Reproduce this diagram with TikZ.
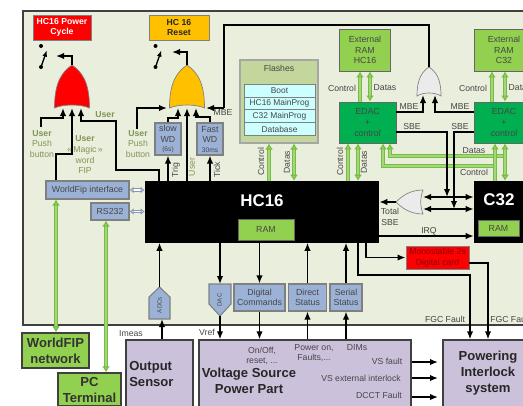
\documentclass[tikz,border=0pt]{standalone}
\usepackage{fontspec}
\setmainfont{Liberation Sans}
\usepackage{xcolor}
\usetikzlibrary{arrows.meta, positioning, calc, shapes.geometric}
\definecolor{qpsback}{RGB}{234,238,220}
\definecolor{qpsframe}{RGB}{64,64,64}
\definecolor{qpsgreen}{RGB}{146,208,80}
\definecolor{qpsline}{RGB}{118,190,62}
\definecolor{qpsedac}{RGB}{0,176,80}
\definecolor{qpsblue}{RGB}{155,178,214}
\definecolor{qpspurple}{RGB}{204,193,218}
\definecolor{qpsorange}{RGB}{255,192,0}
\definecolor{qpsflash}{RGB}{195,214,155}
\definecolor{qpscyan}{RGB}{204,255,255}
\definecolor{qpsuser}{RGB}{128,150,84}
\definecolor{qpstext}{RGB}{70,70,70}
\tikzset{
  sized/.style 2 args={minimum width=#1*.75pt, minimum height=#2*.75pt, inner sep=0pt, align=center},
  bluebox/.style={draw=gray, fill=qpsblue, line width=.8pt, text=qpstext, font=\fontsize{6.6}{8}\selectfont},
  greenbox/.style={draw=gray!80!black, fill=qpsgreen, line width=.7pt, text=qpstext, font=\fontsize{6.6}{8}\selectfont},
  edacbox/.style={draw=gray!80!black, fill=qpsedac, line width=.7pt, text=qpstext, font=\fontsize{6.6}{8}\selectfont},
  netbox/.style={draw=qpsframe, fill=qpsgreen, line width=1pt, text=black!80, font=\fontsize{9.8}{12}\selectfont\bfseries},
  purplebox/.style={draw=qpsframe, fill=qpspurple, line width=1pt},
  bigtxt/.style={text=black!85, font=\fontsize{9.8}{12}\selectfont\bfseries, align=center, inner sep=0pt},
  labeltxt/.style={text=qpstext, font=\fontsize{6.5}{8}\selectfont, align=center, inner sep=0pt},
  usertxt/.style={text=qpsuser, font=\fontsize{6.5}{8}\selectfont, align=center, inner sep=0pt},
  blacktxt/.style={text=white, font=\fontsize{12.7}{14}\selectfont\bfseries, inner sep=0pt},
  sigtip/.tip={Latex[length=6pt,width=4.8pt]},
  bustip/.tip={Latex[length=4.5pt,width=6pt,fill=qpsline!70!white]},
  smalltip/.tip={Latex[length=3pt,width=5pt,fill=white]},
  sig/.style={draw=black, line width=1.1pt, -sigtip},
  sigboth/.style={draw=black, line width=1.1pt, sigtip-sigtip},
  wire/.style={draw=black, line width=1.1pt},
  bus/.style={draw=qpsline, line width=1.1pt, double=qpsline!65!white, double distance=.9pt, bustip-bustip},
  busup/.style={draw=qpsline, line width=1.1pt, double=qpsline!65!white, double distance=.9pt, bustip-},
  smallbus/.style={draw=qpsblue!85!black, line width=.6pt, double=white, double distance=1.2pt, smalltip-smalltip},
  gatepath/.style={draw=gray, line width=.5pt},
}
% or gate pointing up: name, centre x, bottom y, half width, height, colour
\newcommand{\orgate}[6]{%
  \path[gatepath, fill=#6] (#2-#4,#3) .. controls (#2-#4,#3-#5*.62) and (#2-#4*.55,#3-#5*.84) .. (#2,#3-#5)
    .. controls (#2+#4*.55,#3-#5*.84) and (#2+#4,#3-#5*.62) .. (#2+#4,#3)
    .. controls (#2+#4*.5,#3-4) and (#2-#4*.5,#3-4) .. cycle;
  \coordinate (#1top) at (#2,#3-#5);}
\newcommand{\switchsym}[2]{%
  \fill (#1,#2) circle (1.5pt);
  \fill (#1,#2+21) circle (1.5pt);
  \draw[line width=1pt, -{Latex[length=5pt,width=3.5pt]}] (#1,#2+21) -- (#1+6,#2+4);}
\begin{document}
\begin{tikzpicture}[x=0.75pt, y=-0.75pt]
\useasboundingbox (0,0) rectangle (523,405);
% ---- main frame ----
\fill[qpsback] (23,11) rectangle (523,325);
\draw[qpsframe, line width=1.1pt] (523,11) -- (23,11) -- (23,325) -- (523,325);

% ---- top boxes ----
\node[sized={58}{25}, draw=gray, fill=red, text=white, font=\fontsize{6.5}{8}\selectfont\bfseries] (powercycle) at (62,27.5) {HC16 Power\\Cycle};
\node[sized={60}{25}, draw=gray, fill=qpsorange, text=black!85, font=\fontsize{6.5}{8}\selectfont\bfseries] (resetbox) at (179,27.5) {HC 16\\Reset};
\switchsym{41}{46}
\switchsym{155.5}{46}

% ---- gates ----
\orgate{powergate}{72}{108}{17.5}{43}{red}
\orgate{resetgate}{187}{108}{17.5}{43}{qpsorange}
\orgate{mbegate}{429}{96}{12}{29}{white!92!black}
\path[gatepath, fill=white!92!black] (423,190) .. controls (410,190) and (402,196) .. (396,202)
  .. controls (402,208) and (410,214) .. (423,214) .. controls (420,206) and (420,198) .. cycle;
\coordinate (sbeout) at (396,202);
\coordinate (sbeina) at (423,197);
\coordinate (sbeinb) at (423,209);
\coordinate (powerpina) at (63,108);
\coordinate (powerpinb) at (72,108);
\coordinate (powerpinc) at (81,108);
\coordinate (resetpina) at (167,108);
\coordinate (resetpinb) at (178,108);
\coordinate (resetpinc) at (187,108);
\coordinate (resetpind) at (196,108);
\coordinate (resetpine) at (206,108);
\coordinate (mbepina) at (423,95);
\coordinate (mbepinb) at (435,95);
\coordinate (poweroutend) at (56,56);
\coordinate (resetoutend) at (172,52);

% ---- processors ----
\node[sized={234}{61.5}, fill=black] (hcsix) at (262,211.75) {};
\node[sized={60}{61.5}, fill=black] (cthree) at (504,211.75) {};
\node[blacktxt] (hcsixname) at (262,201) {HC16};
\node[blacktxt] (cthreename) at (499,200) {C32};
\node[greenbox, sized={56}{21}] (ramsix) at (266,229.5) {RAM};
\node[greenbox, sized={41}{16}] (ramthree) at (498.5,228) {RAM};

% ---- interfaces ----
\node[bluebox, sized={83}{18}] (wfip) at (87.5,190) {WorldFip interface};
\node[bluebox, sized={38}{17}] (rstwo) at (110,211.5) {RS232};
\node[bluebox, sized={26}{32}] (slowwd) at (168,139) {slow\\WD\\[-1pt]{\fontsize{5}{6}\selectfont (6s)}};
\node[bluebox, sized={26}{32}] (fastwd) at (210,139) {Fast\\WD\\[-1pt]{\fontsize{5}{6}\selectfont 30ms}};

% ---- flashes ----
\node[draw=gray!70, fill=qpsflash, line width=.8pt, sized={78}{83}] (flashes) at (279,101.5) {};
\node[labeltxt] (flashname) at (279,68) {Flashes};
\foreach \rowname/\rowy/\rowtxt in {boot/91/Boot, hcprog/103.5/HC16 MainProg, cprog/116/C32 MainProg, database/129/Database}
  \node[draw=gray, fill=qpscyan, line width=.5pt, sized={71}{12.5}, text=qpstext, font=\fontsize{6.3}{7}\selectfont] (\rowname) at (279.5,\rowy) {\rowtxt};

% ---- external memories ----
\node[greenbox, sized={51.5}{42}] (rama) at (365,50) {External\\RAM\\HC16};
\node[greenbox, sized={60}{42}] (ramb) at (504,50) {External\\RAM\\C32};
\node[edacbox, sized={57}{41}] (edaca) at (367.5,122.5) {EDAC\\+\\control};
\node[edacbox, sized={60}{41}] (edacb) at (504,122.5) {EDAC\\+\\control};

% ---- status boxes ----
\node[bluebox, sized={51}{27}] (digcmd) at (259.5,297.5) {Digital\\Commands};
\node[bluebox, sized={38.5}{27}] (dirstat) at (307.5,297.5) {Direct\\Status};
\node[bluebox, sized={32}{27}] (serstat) at (346,297.5) {Serial\\Status};
\path[bluebox] (209,284) -- (231,284) -- (231,304) -- (220,316) -- (209,304) -- cycle;
\coordinate (dactop) at (220,284);
\coordinate (dactip) at (220,316);
\node[text=qpstext, font=\fontsize{4.6}{5}\selectfont, rotate=90, inner sep=0pt] (dacname) at (219.5,300) {DAC};
\path[bluebox] (159.5,287) -- (170,297) -- (170,319) -- (149,319) -- (149,297) -- cycle;
\coordinate (adctop) at (159.5,287);
\coordinate (adcbottom) at (162,319);
\node[text=qpstext, font=\fontsize{4.6}{5}\selectfont, rotate=90, inner sep=0pt] (adcname) at (159.5,305) {ADCs};

% ---- red monostable ----
\node[draw=gray, fill=red, line width=.7pt, sized={63}{23}, text=red!55!black, font=\fontsize{6.5}{8}\selectfont] (mono) at (437.5,257.5) {Monostable 2s\\Digital card};

% ---- lower systems ----
\node[netbox, sized={67}{35}] (wfnet) at (55.5,350.5) {WorldFIP\\network};
\node[netbox, sized={63}{33}] (pcterm) at (89.5,389.5) {PC\\Terminal};
\node[purplebox, sized={67}{80}] (sensor) at (159.5,380) {};
\node[purplebox, sized={212}{80}] (vsource) at (305,380) {};
\node[purplebox, sized={100}{80}] (interlock) at (493,380) {};
\node[bigtxt, align=left, anchor=west] (sensorname) at (129,373.5) {Output\\Sensor};
\node[bigtxt] (vsname) at (249,381) {Voltage Source\\Power Part};
\node[bigtxt] (intname) at (488,373) {Powering\\Interlock\\system};

% ---- green buses ----
\coordinate (ctrlturn) at (383,166);
\coordinate (ctrlend) at (495,166);
\coordinate (dataturn) at (390,156);
\coordinate (dataend) at (505,156);
\draw[busup] (ctrlturn |- edaca.south) -- (ctrlturn) -- (ctrlend);
\draw[busup] (dataturn |- edaca.south) -- (dataturn) -- (dataend);
\coordinate (flashctrl) at (269,162);
\coordinate (flashdata) at (294,162);
\coordinate (ramactrl) at (360,88);
\coordinate (ramadata) at (370,88);
\coordinate (rambctrl) at (492,88);
\coordinate (rambdata) at (505,88);
\coordinate (edacactrl) at (348,162);
\coordinate (edacadata) at (358,162);
\coordinate (edacbctrl) at (495,162);
\coordinate (edacbdata) at (505,162);
\draw[busup] (flashctrl |- flashes.south) -- (flashctrl |- hcsix.north);
\draw[bus] (flashdata |- flashes.south) -- (flashdata |- hcsix.north);
\draw[busup] (ramactrl |- rama.south) -- (ramactrl |- edaca.north);
\draw[bus] (ramadata |- rama.south) -- (ramadata |- edaca.north);
\draw[busup] (rambctrl |- ramb.south) -- (rambctrl |- edacb.north);
\draw[bus] (rambdata |- ramb.south) -- (rambdata |- edacb.north);
\draw[busup] (edacactrl |- edaca.south) -- (edacactrl |- hcsix.north);
\draw[bus] (edacadata |- edaca.south) -- (edacadata |- hcsix.north);
\draw[busup] (edacbctrl |- edacb.south) -- (edacbctrl |- cthree.north);
\draw[bus] (edacbdata |- edacb.south) -- (edacbdata |- cthree.north);
\coordinate (wfbus) at (56,260);
\coordinate (rsbus) at (106,300);
\draw[bus] (wfbus |- wfip.south) -- (wfbus |- wfnet.north);
\draw[bus] (rsbus |- rstwo.south) -- (rsbus |- pcterm.north);
\draw[smallbus] (wfip.east) -- (wfip.east -| hcsix.west);
\draw[smallbus] (rstwo.east) -- (rstwo.east -| hcsix.west);

% ---- gate connectors ----
\draw[sig] (powergatetop) -- (powergatetop |- poweroutend) -- (poweroutend);
\draw[sig] (resetgatetop) -- (resetgatetop |- resetoutend) -- (resetoutend);
\coordinate (pushone) at (41,127);
\draw[sig] (pushone) -- (41,118) -- (63,118) -- (powerpina);
\draw[sig] (wfbus |- wfip.north) -- (56,154) -- (72,154) -- (powerpinb);
\draw[sig] (159,181) -- (159,170) -- (116,170) -- (116,121) -- (81,121) -- (powerpinc);
\coordinate (pushtwo) at (137,129);
\draw[sig] (pushtwo) -- (137,108) -- (resetpina);
\draw[sig] (slowwd.north) -- (168,118) -- (178,118) -- (resetpinb);
\draw[sig] (resetpinc |- hcsix.north) -- (resetpinc);
\draw[sig] (fastwd.north) -- (210,117) -- (196,117) -- (resetpind);
\draw[wire] (mbegatetop) -- (429,25) -- (224,25) -- (224,108);
\draw[sig] (224,108) -- (resetpine);
\draw[sig] (hcsix.north -| slowwd.south) -- (slowwd.south);
\draw[sig] (hcsix.north -| fastwd.south) -- (fastwd.south);

% ---- edac connectors ----
\draw[sig] (396,112) -- (423,112) -- (mbepina);
\draw[sig] (474,112) -- (435,112) -- (mbepinb);
\coordinate (sbeleft) at (447,197);
\coordinate (sberight) at (454,209);
\draw[sig] (396,132) -- (447,132) -- (sbeleft);
\draw[sig] (474,132) -- (454,132) -- (sberight);
\draw[sigboth] (sbeina) -- (sbeina -| cthree.west);
\draw[sigboth] (sbeinb) -- (sbeinb -| cthree.west);
\draw[sig] (sbeout) -- (sbeout -| hcsix.east);
\coordinate (irqstart) at (379,236);
\draw[sig] (irqstart) -- (irqstart -| cthree.west);

% ---- lower connectors ----
\coordinate (monotap) at (366,242.5);
\coordinate (faulttap) at (358,242.5);
\coordinate (faultone) at (470,275);
\coordinate (faulttwo) at (488,263);
\draw[sig] (monotap) -- (monotap |- mono.west) -- (mono.west);
\draw[sig] (faulttap) -- (faulttap |- faultone) -- (faultone) -- (faultone |- interlock.north);
\draw[sig] (mono.east |- faulttwo) -- (faulttwo) -- (faulttwo |- interlock.north);
\draw[sig] (dactop |- hcsix.south) -- (dactop);
\draw[sig] (dactip) -- (dactip |- vsource.north);
\draw[sig] (digcmd.north |- hcsix.south) -- (digcmd.north);
\draw[sig] (digcmd.south) -- (digcmd.south |- vsource.north);
\draw[sig] (dirstat.north) -- (dirstat.north |- hcsix.south);
\draw[sig] (dirstat.south |- vsource.north) -- (dirstat.south);
\draw[sig] (serstat.north) -- (serstat.north |- hcsix.south);
\draw[sig] (serstat.south |- vsource.north) -- (serstat.south);
\draw[sig] (adctop) -- (adctop |- hcsix.south);
\draw[sig] (adcbottom |- sensor.north) -- (adcbottom);
\foreach \outname/\outy in {fault/362, ext/378, dcct/397}
  \draw[sig] (vsource.east |- 0,\outy) -- (438,\outy) coordinate (\outname);

% ---- labels ----
\node[usertxt] (pushlabela) at (42,144) {\textbf{User}\\Push\\button};
\node[usertxt] (pushlabelb) at (138,144) {\textbf{User}\\Push\\button};
\node[usertxt] (magiclabel) at (85,155) {\textbf{User}\\«\,Magic\,»\\word\\FIP};
\node[usertxt, font=\fontsize{6.5}{8}\selectfont\bfseries] (userlabel) at (105,115) {User};
\node[usertxt, rotate=90] (userlabelb) at (192,167) {User};
\node[labeltxt, rotate=90] (triglabel) at (176,170) {Trig};
\node[labeltxt, rotate=90] (ticklabel) at (217,170) {Tick};
\node[labeltxt] (mbelabel) at (223,113) {MBE};
\node[labeltxt, rotate=90] (ctrllabel) at (261,162) {Control};
\node[labeltxt, rotate=90] (datalabel) at (287,162) {Datas};
\node[labeltxt] (ctrllabela) at (342,88) {Control};
\node[labeltxt] (datalabela) at (385,88) {Datas};
\node[labeltxt] (ctrllabelb) at (473,88) {Control};
\node[labeltxt] (datalabelb) at (520,88) {Datas};
\node[labeltxt, rotate=90] (ctrllabelc) at (340,162) {Control};
\node[labeltxt, rotate=90] (datalabelc) at (364,162) {Datas};
\node[labeltxt] (datalabeld) at (474,151) {Datas};
\node[labeltxt] (ctrllabeld) at (474,172) {Control};
\node[labeltxt] (mbelabela) at (409,107) {MBE};
\node[labeltxt] (mbelabelb) at (460,107) {MBE};
\node[labeltxt] (sbelabela) at (412,127) {SBE};
\node[labeltxt] (sbelabelb) at (460,127) {SBE};
\node[labeltxt] (totallabel) at (390,217) {Total\\SBE};
\node[labeltxt] (irqlabel) at (429,231) {IRQ};
\node[labeltxt] (fgclabela) at (445,319) {FGC Fault};
\node[labeltxt, anchor=west] (fgclabelb) at (490,319) {FGC Fault};
\node[labeltxt] (imeaslabel) at (131,334) {Imeas};
\node[labeltxt] (vreflabel) at (207,332) {Vref};
\node[labeltxt] (onofflabel) at (262,356) {On/Off,\\reset, ...};
\node[labeltxt] (poweronlabel) at (314,353) {Power on,\\Faults,...};
\node[labeltxt] (dimslabel) at (357,348) {DIMs};
\node[labeltxt] (vsfaultlabel) at (387,361) {VS fault};
\node[labeltxt] (vsextlabel) at (361,378) {VS external interlock};
\node[labeltxt] (dcctlabel) at (379,395) {DCCT Fault};
\end{tikzpicture}
\end{document}
